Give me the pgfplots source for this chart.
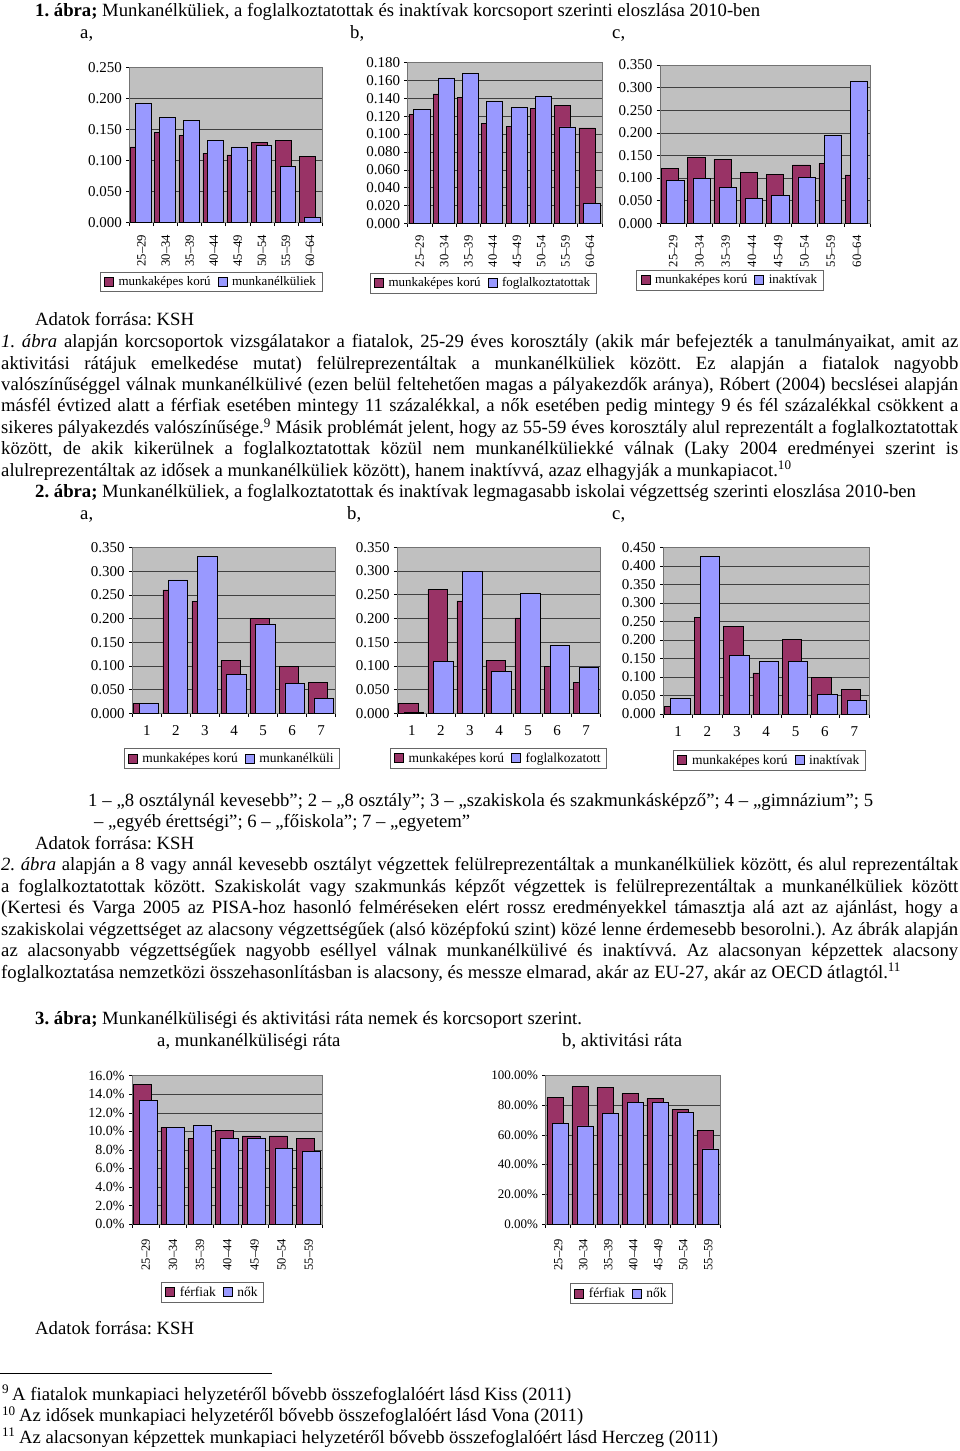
\documentclass[border=0pt]{standalone}
\usepackage{fontspec}
\setmainfont{Liberation Serif}
\usepackage{pgfplots}
\pgfplotsset{compat=1.18}
\frenchspacing
\definecolor{mar}{HTML}{993366}
\definecolor{blu}{HTML}{9999FF}
\definecolor{bgc}{HTML}{C0C0C0}
\newcommand\T[3]{\node[anchor=base west,inner sep=0pt] at (#1bp,-#2bp) {#3};}
\newcommand\J[4]{\node[anchor=base west,inner sep=0pt] at (#1bp,-#2bp) {\makebox[#3bp][s]{#4}};}
\newcommand\fs[1]{\fontsize{#1bp}{#1bp}\selectfont}
\pgfplotsset{
 xc/.style={scale only axis, anchor=south west, ymin=0,
  axis background/.style={fill=bgc},
  axis line style={draw=black!55,line width=0.6bp},
  ymajorgrids, grid style={black!75,line width=0.5bp},
  tick pos=left, tick align=outside, major tick length=3.5bp,
  tick style={black,line width=0.5bp},
  scaled y ticks=false,
  /pgf/number format/assume math mode=true,
  yticklabel style={anchor=east,inner sep=0pt,xshift=-4bp,font=\fs{15}},
  xticklabels={},
  legend columns=2, legend cell align=left,
  legend style={anchor=north, draw=black!60, line width=0.5bp, inner xsep=4bp, inner ysep=2.5bp,
     /tikz/every even column/.append style={column sep=5bp}},
 },
 f3/.style={yticklabel style={/pgf/number format/fixed,/pgf/number format/fixed zerofill,/pgf/number format/precision=3}},
 ages8/.style={xmin=-0.5,xmax=7.5, xtick={-0.5,0.5,...,7.5},
   extra x ticks={0,1,2,3,4,5,6,7},
   extra x tick labels={25–29,30–34,35–39,40–44,45–49,50–54,55–59,60–64},
   extra x tick style={major tick length=0pt, tick label style={font=\fs{12.7}, yshift=-12bp, rotate=90, anchor=east, inner sep=0pt}},
   legend style={font=\fs{13}}},
 edu7/.style={xmin=-0.5,xmax=6.5, xtick={-0.5,0.5,...,6.5},
   extra x ticks={0,1,2,3,4,5,6},
   extra x tick labels={1,2,3,4,5,6,7},
   extra x tick style={major tick length=0pt, tick label style={font=\fs{15}, yshift=-12bp, anchor=north, inner sep=0pt}},
   legend style={font=\fs{13.5}}},
 ages7/.style={xmin=-0.5,xmax=6.5, xtick={-0.5,0.5,...,6.5},
   extra x ticks={0,1,2,3,4,5,6},
   extra x tick labels={25–29,30–34,35–39,40–44,45–49,50–54,55–59},
   extra x tick style={major tick length=0pt, tick label style={font=\fs{12.5}, yshift=-15bp, rotate=90, anchor=east, inner sep=0pt}},
   legend style={font=\fs{13.5}}},
 bm/.style={ybar, bar width=0.66, bar shift=-0.12, fill=mar, draw=black, line width=0.6bp,
   legend image code/.code={\draw[fill=mar,draw=black,line width=0.5bp] (0bp,-4.5bp) rectangle (9bp,4.5bp); \path (12bp,0bp);}},
 bb/.style={ybar, bar width=0.66, bar shift=0.08, fill=blu, draw=black, line width=0.6bp,
   legend image code/.code={\draw[fill=blu,draw=black,line width=0.5bp] (0bp,-4.5bp) rectangle (9bp,4.5bp); \path (12bp,0bp);}},
}
\begin{document}
\begin{tikzpicture}[font=\fontsize{18.7bp}{21.5bp}\selectfont]
\useasboundingbox (0,0) rectangle (960bp,-1451bp);
% ---------- text ----------
\T{35}{16.7}{\textbf{1. ábra;} Munkanélküliek, a foglalkoztatottak és inaktívak korcsoport szerinti eloszlása 2010-ben}
\T{80}{38.5}{a,}\T{350}{38.5}{b,}\T{612}{38.5}{c,}
\T{35}{325}{Adatok forrása: KSH}
\J{1}{347.5}{957}{\textit{1. ábra} alapján korcsoportok vizsgálatakor a fiatalok, 25-29 éves korosztály (akik már befejezték a tanulmányaikat, amit az}
\J{1}{369}{957}{aktivitási rátájuk emelkedése mutat) felülreprezentáltak a munkanélküliek között. Ez alapján a fiatalok nagyobb}
\J{1}{390.4}{957}{valószínűséggel válnak munkanélkülivé (ezen belül feltehetően magas a pályakezdők aránya), Róbert (2004) becslései alapján}
\J{1}{411.9}{957}{másfél évtized alatt a férfiak esetében mintegy 11 százalékkal, a nők esetében pedig mintegy 9 és fél százalékkal csökkent a}
\J{1}{433.3}{957}{sikeres pályakezdés valószínűsége.\textsuperscript{9} Másik problémát jelent, hogy az 55-59 éves korosztály alul reprezentált a foglalkoztatottak}
\J{1}{454.8}{957}{között, de akik kikerülnek a foglalkoztatottak közül nem munkanélküliekké válnak (Laky 2004 eredményei szerint is}
\T{1}{476.2}{alulreprezentáltak az idősek a munkanélküliek között), hanem inaktívvá, azaz elhagyják a munkapiacot.\textsuperscript{10}}
\T{35}{497.5}{\textbf{2. ábra;} Munkanélküliek, a foglalkoztatottak és inaktívak legmagasabb iskolai végzettség szerinti eloszlása 2010-ben}
\T{80}{519}{a,}\T{347}{519}{b,}\T{612}{519}{c,}
\J{88}{806.5}{785}{1 – „8 osztálynál kevesebb”; 2 – „8 osztály”; 3 – „szakiskola és szakmunkásképző”; 4 – „gimnázium”; 5}
\T{94}{827.8}{– „egyéb érettségi”; 6 – „főiskola”; 7 – „egyetem”}
\T{35}{849.3}{Adatok forrása: KSH}
\J{1}{870.8}{957}{\textit{2. ábra} alapján a 8 vagy annál kevesebb osztályt végzettek felülreprezentáltak a munkanélküliek között, és alul reprezentáltak}
\J{1}{892.2}{957}{a foglalkoztatottak között. Szakiskolát vagy szakmunkás képzőt végzettek is felülreprezentáltak a munkanélküliek között}
\J{1}{913.7}{957}{(Kertesi és Varga 2005 az PISA-hoz hasonló felméréseken elért rossz eredményekkel támasztja alá azt az ajánlást, hogy a}
\J{1}{935.1}{957}{szakiskolai végzettséget az alacsony végzettségűek (alsó középfokú szint) közé lenne érdemesebb besorolni.). Az ábrák alapján}
\J{1}{956.6}{957}{az alacsonyabb végzettségűek nagyobb eséllyel válnak munkanélkülivé és inaktívvá. Az alacsonyan képzettek alacsony}
\T{1}{978}{foglalkoztatása nemzetközi összehasonlításban is alacsony, és messze elmarad, akár az EU-27, akár az OECD átlagtól.\textsuperscript{11}}
\T{35}{1024}{\textbf{3. ábra;} Munkanélküliségi és aktivitási ráta nemek és korcsoport szerint.}
\T{157}{1046}{a, munkanélküliségi ráta}\T{562}{1046}{b, aktivitási ráta}
\T{35}{1334}{Adatok forrása: KSH}
\draw[line width=0.6bp] (0bp,-1373bp) -- (272bp,-1373bp);
\T{2}{1400}{\textsuperscript{9}}\T{12}{1400}{A fiatalok munkapiaci helyzetéről bővebb összefoglalóért lásd Kiss (2011)}
\T{2}{1421.5}{\textsuperscript{10}}\T{19}{1421.5}{Az idősek munkapiaci helyzetéről bővebb összefoglalóért lásd Vona (2011)}
\T{2}{1443}{\textsuperscript{11}}\T{19}{1443}{Az alacsonyan képzettek munkapiaci helyzetéről bővebb összefoglalóért lásd Herczeg (2011)}
% ---------- 1a ----------
\begin{axis}[xc, ages8, f3, at={(129.5bp,-222.7bp)}, width=192.5bp, height=155.4bp,
  ymax=0.25, ytick={0,0.05,0.1,0.15,0.2,0.25},
  legend style={at={(0.423,-0.317)}}]
\addplot[bm] coordinates {(0,0.122)(1,0.145)(2,0.141)(3,0.112)(4,0.109)(5,0.129)(6,0.132)(7,0.107)};
\addplot[bb] coordinates {(0,0.192)(1,0.169)(2,0.164)(3,0.132)(4,0.122)(5,0.124)(6,0.090)(7,0.008)};
\legend{munkaképes korú,munkanélküliek}
\end{axis}
% ---------- 1b ----------
\begin{axis}[xc, ages8, f3, at={(407.7bp,-223.3bp)}, width=194.3bp, height=160.6bp,
  ymax=0.18, ytick={0,0.02,0.04,0.06,0.08,0.1,0.12,0.14,0.16,0.18},
  legend style={at={(0.388,-0.309)}}]
\addplot[bm] coordinates {(0,0.122)(1,0.145)(2,0.141)(3,0.112)(4,0.109)(5,0.129)(6,0.132)(7,0.107)};
\addplot[bb] coordinates {(0,0.128)(1,0.163)(2,0.168)(3,0.137)(4,0.130)(5,0.142)(6,0.108)(7,0.022)};
\legend{munkaképes korú,foglalkoztatottak}
\end{axis}
% ---------- 1c ----------
\begin{axis}[xc, ages8, f3, at={(660bp,-223.3bp)}, width=210bp, height=158.3bp,
  ymax=0.35, ytick={0,0.05,0.1,0.15,0.2,0.25,0.3,0.35},
  legend style={at={(0.333,-0.295)}}]
\addplot[bm] coordinates {(0,0.122)(1,0.145)(2,0.141)(3,0.112)(4,0.109)(5,0.129)(6,0.132)(7,0.107)};
\addplot[bb] coordinates {(0,0.094)(1,0.099)(2,0.080)(3,0.055)(4,0.061)(5,0.102)(6,0.195)(7,0.315)};
\legend{munkaképes korú,inaktívak}
\end{axis}
% ---------- 2a ----------
\begin{axis}[xc, edu7, f3, at={(132.3bp,-713.3bp)}, width=203.4bp, height=165.6bp,
  ymax=0.35, ytick={0,0.05,0.1,0.15,0.2,0.25,0.3,0.35},
  legend style={at={(0.489,-0.21)}}]
\addplot[bm] coordinates {(0,0.021)(1,0.261)(2,0.237)(3,0.111)(4,0.201)(5,0.099)(6,0.066)};
\addplot[bb] coordinates {(0,0.021)(1,0.282)(2,0.331)(3,0.082)(4,0.189)(5,0.063)(6,0.031)};
\legend{munkaképes korú,munkanélküli}
\end{axis}
% ---------- 2b ----------
\begin{axis}[xc, edu7, f3, at={(397.3bp,-713.3bp)}, width=203.4bp, height=166bp,
  ymax=0.35, ytick={0,0.05,0.1,0.15,0.2,0.25,0.3,0.35},
  legend style={at={(0.497,-0.209)}}]
\addplot[bm] coordinates {(0,0.021)(1,0.261)(2,0.237)(3,0.111)(4,0.201)(5,0.099)(6,0.066)};
\addplot[bb] coordinates {(0,0.002)(1,0.110)(2,0.299)(3,0.088)(4,0.253)(5,0.143)(6,0.098)};
\legend{munkaképes korú,foglalkozatott}
\end{axis}
% ---------- 2c ----------
\begin{axis}[xc, edu7, f3, at={(663.3bp,-714bp)}, width=205.7bp, height=166.7bp,
  ymax=0.45, ytick={0,0.05,0.1,0.15,0.2,0.25,0.3,0.35,0.4,0.45},
  legend style={at={(0.516,-0.216)}}]
\addplot[bm] coordinates {(0,0.021)(1,0.261)(2,0.237)(3,0.111)(4,0.201)(5,0.099)(6,0.066)};
\addplot[bb] coordinates {(0,0.042)(1,0.425)(2,0.158)(3,0.142)(4,0.142)(5,0.052)(6,0.037)};
\legend{munkaképes korú,inaktívak}
\end{axis}
% ---------- 3a ----------
\begin{axis}[xc, ages7, at={(132.3bp,-1224bp)}, width=190bp, height=148.3bp,
  ymax=16, ytick={0,2,4,6,8,10,12,14,16},
  yticklabel={\pgfmathprintnumber[fixed,fixed zerofill,precision=1]{\tick}\%},
  yticklabel style={font=\fs{14}},
  legend style={at={(0.422,-0.391)}}]
\addplot[bm] coordinates {(0,15.1)(1,10.4)(2,9.2)(3,10.1)(4,9.5)(5,9.5)(6,9.2)};
\addplot[bb] coordinates {(0,13.3)(1,10.4)(2,10.6)(3,9.2)(4,9.3)(5,8.2)(6,7.8)};
\legend{férfiak,nők}
\end{axis}
% ---------- 3b ----------
\begin{axis}[xc, ages7, at={(545.7bp,-1224bp)}, width=175bp, height=148.3bp,
  ymax=100, ytick={0,20,40,60,80,100},
  yticklabel={\pgfmathprintnumber[fixed,fixed zerofill,precision=2]{\tick}\%},
  yticklabel style={font=\fs{13}},
  legend style={at={(0.433,-0.398)}}]
\addplot[bm] coordinates {(0,85.4)(1,92.6)(2,91.9)(3,87.9)(4,84.7)(5,77.1)(6,62.9)};
\addplot[bb] coordinates {(0,67.6)(1,66.1)(2,74.8)(3,81.8)(4,81.8)(5,75.5)(6,50.6)};
\legend{férfiak,nők}
\end{axis}
\end{tikzpicture}
\end{document}
